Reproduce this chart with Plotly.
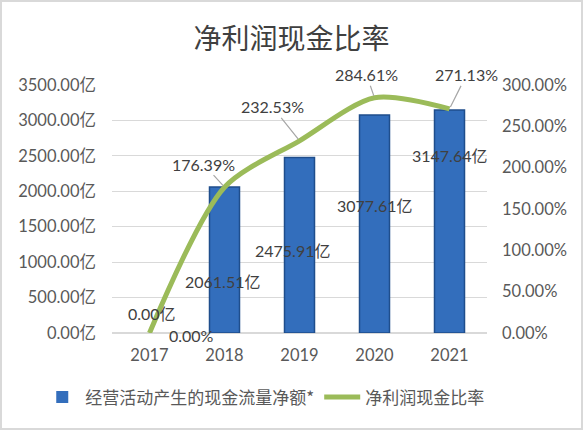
import plotly.graph_objects as go

# 数据
years = [2017, 2018, 2019, 2020, 2021]
cash_flow = [0.00, 2061.51, 2475.91, 3077.61, 3147.64]      # 亿
cash_ratio = [0.0, 1.7639, 2.3253, 2.8461, 2.7113]           # 净利润现金比率

bar_name = '经营活动产生的现金流量净额*'
line_name = '净利润现金比率'

# 标签位置（样式）
bar_label_y = [282, 720, 1171, 1806, 2512]
bar_label_dx = [2, -2, -7, 0, 0]
pct_label_off = [(42, 2), (-21, -23), (-27, -34), (-8, -23), (17, -34)]

font_main = 'Lato, Noto Sans CJK SC, sans-serif'
grey = '#595959'

fig = go.Figure()

fig.add_trace(go.Bar(
    x=years, y=cash_flow, name=bar_name, width=0.4,
    marker=dict(color='#336EBC',
                line=dict(color='#1F4E8C', width=[1.5 if v > 0 else 0 for v in cash_flow])),
))

fig.add_trace(go.Scatter(
    x=years, y=cash_ratio, name=line_name, yaxis='y2',
    mode='lines', line=dict(color='#9BBB59', width=5, shape='spline', smoothing=0.8),
))

annotations = []
for yr, v, ly, dx in zip(years, cash_flow, bar_label_y, bar_label_dx):
    annotations.append(dict(
        x=yr, y=ly, xref='x', yref='y', text=f'{v:.2f}亿', showarrow=False,
        xshift=dx, font=dict(size=16, color='#404040', family=font_main),
    ))

for i, (yr, r, (ox, oy)) in enumerate(zip(years, cash_ratio, pct_label_off)):
    txt = f'{r * 100:.2f}%'
    if i == 0:
        annotations.append(dict(
            x=yr, y=r, xref='x', yref='y2', text=txt, showarrow=False,
            xshift=ox, yshift=-oy, font=dict(size=16, color='#404040', family=font_main),
        ))
    else:
        annotations.append(dict(
            x=yr, y=r, xref='x', yref='y2', text=txt, showarrow=True,
            ax=ox, ay=oy, arrowhead=0, arrowwidth=1.2, arrowcolor='#A6A6A6',
            standoff=2, font=dict(size=16, color='#404040', family=font_main),
        ))

fig.update_layout(
    width=583, height=430,
    margin=dict(l=112, r=96, t=85, b=97),
    paper_bgcolor='white', plot_bgcolor='white',
    title=dict(text='净利润现金比率', x=0.5, xanchor='center', y=0.91, yanchor='middle',
               font=dict(size=28, color='#404040', family='Noto Sans CJK SC')),
    xaxis=dict(range=[years[0] - 0.5, years[-1] + 0.5], tickvals=years,
               showgrid=False, showline=False, zeroline=False, ticks='',
               ticklabelstandoff=10,
               tickformat='d', tickfont=dict(size=16.5, color=grey, family=font_main)),
    yaxis=dict(range=[0, 3500], dtick=500, tickformat='.2f', ticksuffix='亿',
               showgrid=True, gridcolor='#D9D9D9', gridwidth=1.2, zeroline=True,
               zerolinecolor='#D9D9D9', ticks='', ticklabelstandoff=15,
               tickfont=dict(size=16.5, color=grey, family=font_main)),
    yaxis2=dict(range=[0, 3.0], dtick=0.5, tickformat='.2%', overlaying='y', side='right',
                showgrid=False, zeroline=False, ticks='', ticklabelstandoff=14,
                tickfont=dict(size=16.5, color=grey, family=font_main)),
    legend=dict(orientation='h', x=-0.194, xanchor='left', y=-0.26, yanchor='middle',
                font=dict(size=17, color=grey, family='Noto Sans CJK SC'),
                itemwidth=36),
    shapes=[dict(type='rect', xref='paper', yref='paper', x0=-111 / 375, x1=1 + 95 / 375,
                 y0=-96 / 248, y1=1 + 84 / 248, line=dict(color='#D9D9D9', width=2))],
)
fig.update_layout(annotations=annotations)

fig.write_html('out.html', config={'displayModeBar': False},
               post_script="document.body.style.margin='0';")
